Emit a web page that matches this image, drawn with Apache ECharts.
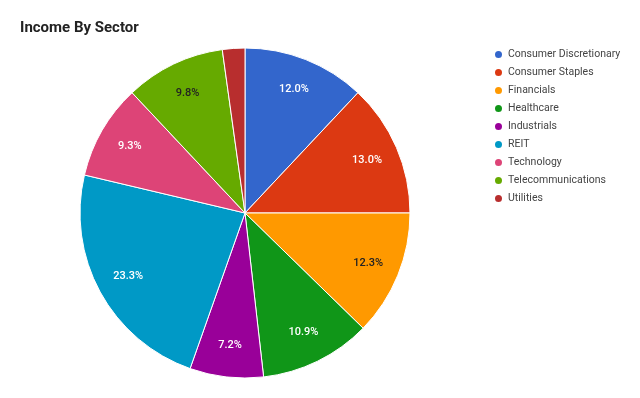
<!DOCTYPE html>
<html><head><meta charset="utf-8">
<script src="https://cdn.jsdelivr.net/npm/echarts@6/dist/echarts.min.js"></script>
<style>html,body{margin:0;padding:0;background:#fff}#c{width:640px;height:398px}</style>
</head><body><div id="c"></div>
<script>
const categories = ["Consumer Discretionary","Consumer Staples","Financials","Healthcare","Industrials","REIT","Technology","Telecommunications","Utilities"];
const values = [12.0, 13.0, 12.3, 10.9, 7.2, 23.3, 9.3, 9.8, 2.2];
const colors = ["#3366cc","#dc3912","#ff9900","#109618","#990099","#0099c6","#dd4477","#66aa00","#b82e2e"];
const labelColors = ["#fff","#fff","#222","#fff","#fff","#fff","#fff","#222","#fff"];

const chart = echarts.init(document.getElementById('c'), null, {renderer:'canvas'});
const fontFamily = 'Roboto, "Noto Sans", sans-serif';
chart.setOption({
  animation:false,
  color: colors,
  title:{text:'Income By Sector', left:15, top:16, textStyle:{fontFamily, fontSize:15, fontWeight:'bold', color:'#222'}},
  legend:{
    orient:'vertical', left:488, top:44, icon:'circle', itemWidth:9, itemHeight:9, itemGap:7,
    data: categories,
    textStyle:{fontFamily, fontSize:10.5, color:'#444'}
  },
  series:[
    {
      type:'pie', center:[245,213], radius:[0,165], startAngle:90, clockwise:true,
      label:{show:false}, labelLine:{show:false},
      itemStyle:{borderColor:'#fff', borderWidth:1},
      emphasis:{disabled:true},
      data: categories.map((n,i)=>({name:n, value:values[i]}))
    },
    {
      type:'pie', center:[245,213], radius:[95,165], startAngle:90, clockwise:true, silent:true,
      itemStyle:{color:'rgba(0,0,0,0)', borderWidth:0},
      labelLine:{show:false},
      emphasis:{disabled:true},
      label:{show:true, position:'inside', fontFamily, fontSize:11, fontWeight:500,
        formatter:p=> p.percent < 5 ? '' : p.value.toFixed(1)+'%'},
      data: categories.map((n,i)=>({name:n, value:values[i], label:{color:labelColors[i]}}))
    }
  ]
});
</script></body></html>
